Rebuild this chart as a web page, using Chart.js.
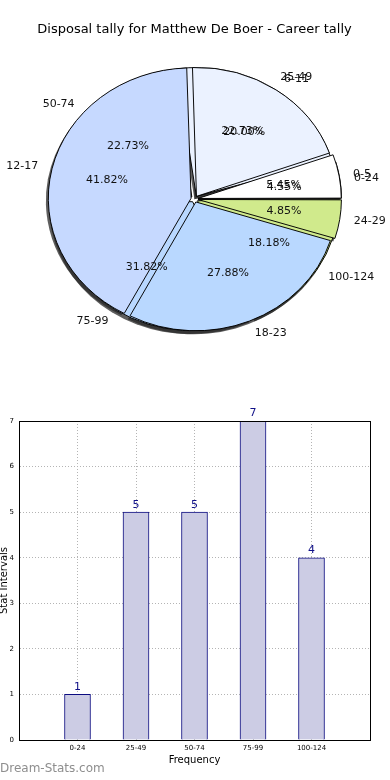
<!DOCTYPE html>
<html>
<head>
<meta charset="utf-8">
<script src="https://cdn.jsdelivr.net/npm/chart.js@4.4.0/dist/chart.umd.min.js"></script>
<style>
body { margin: 0; background: #fff; }
#wrap { position: relative; width: 390px; height: 780px; overflow: hidden; }
canvas { position: absolute; left: 0; }
#pieBack, #pieFront { top: 0; }
#barChart { top: 400px; }
#brand { position: absolute; left: 0; top: 761px; font: 12px "DejaVu Sans", sans-serif; color: #8e8e8e; }
</style>
</head>
<body>
<div id="wrap">
  <canvas id="pieBack" width="390" height="390"></canvas>
  <canvas id="pieFront" width="390" height="390"></canvas>
  <canvas id="barChart" width="390" height="380"></canvas>
  <div id="brand">Dream-Stats.com</div>
</div>
<script>
var titleText = 'Disposal tally for Matthew De Boer - Career tally';

// career tally (bins of 25) - also used for the bar chart
var careerLabels = ['0-24', '25-49', '50-74', '75-99', '100-124'];
var careerCounts = [1, 5, 5, 7, 4];

// disposal tally (bins of 6)
var disposalLabels = ['0-5', '6-11', '12-17', '18-23', '24-29'];
var disposalCounts = [9, 33, 69, 46, 8];

var sliceColors = ['#ffffff', '#ebf2ff', '#c6d9ff', '#b9d8ff', '#d0ea8c'];

var font = '"DejaVu Sans", sans-serif';
var squash = 0.913; // the pie is drawn a little flatter than round

function applySquash(ctx, cx, cy) {
  // flip vertically so slices run counter clockwise from 3 o'clock
  ctx.translate(cx, cy);
  ctx.scale(1, -squash);
  ctx.translate(-cx, -cy);
}

function arcShift(arc) {
  var off = (arc.options.offset || 0) / 4;
  var circ = arc.endAngle - arc.startAngle;
  var fix = 1 - Math.sin(Math.min(Math.PI, circ));
  return off * (1 + fix);
}

function labelPoint(arc, dist) {
  var mid = (arc.startAngle + arc.endAngle) / 2;
  var r = arc.outerRadius * dist + arcShift(arc);
  return { x: arc.x + r * Math.cos(mid), y: arc.y - squash * r * Math.sin(mid), c: Math.cos(mid) };
}

function drawShadows(ctx, chart) {
  if (!chart) return;
  var arcs = chart.getDatasetMeta(0).data;
  arcs.forEach(function(arc) {
    var mid = (arc.startAngle + arc.endAngle) / 2;
    var s = arcShift(arc);
    var x = arc.x + s * Math.cos(mid), y = arc.y + s * Math.sin(mid);
    ctx.beginPath();
    ctx.moveTo(x, y);
    ctx.arc(x, y, arc.outerRadius + 0.5, arc.startAngle, arc.endAngle);
    ctx.closePath();
    ctx.fill();
  });
}

var squashPlugin = {
  id: 'squash',
  beforeDatasetsDraw: function(chart) {
    var ctx = chart.ctx;
    var arcs = chart.getDatasetMeta(0).data;
    var cx = arcs[0].x, cy = arcs[0].y;
    if (chart.canvas.id === 'pieBack') {
      ctx.save();
      ctx.translate(-2, 3);
      applySquash(ctx, cx, cy);
      ctx.fillStyle = 'rgba(40,40,40,0.75)';
      drawShadows(ctx, chart);
      drawShadows(ctx, Chart.getChart('pieFront'));
      ctx.restore();
    }
    ctx.save();
    applySquash(ctx, cx, cy);
  },
  afterDatasetsDraw: function(chart) {
    chart.ctx.restore();
  }
};

function drawPieTexts(ctx, chart, labels, counts) {
  if (!chart) return;
  var arcs = chart.getDatasetMeta(0).data;
  var total = counts.reduce(function(a, b) { return a + b; }, 0);
  ctx.font = '11px ' + font;
  ctx.fillStyle = '#111';
  ctx.textBaseline = 'middle';
  arcs.forEach(function(arc, i) {
    var p = labelPoint(arc, 1.1);
    ctx.textAlign = p.c >= 0 ? 'left' : 'right';
    ctx.fillText(labels[i], p.x, p.y);
    var q = labelPoint(arc, 0.6);
    ctx.textAlign = 'center';
    ctx.fillText((100 * counts[i] / total).toFixed(2) + '%', q.x, q.y);
  });
}

var pieTextPlugin = {
  id: 'pieTexts',
  afterDraw: function(chart) {
    var ctx = chart.ctx;
    ctx.save();
    drawPieTexts(ctx, Chart.getChart('pieBack'), careerLabels, careerCounts);
    drawPieTexts(ctx, chart, disposalLabels, disposalCounts);
    ctx.restore();
  }
};

function pieOptions(titleColor) {
  return {
    responsive: false,
    animation: false,
    rotation: 90,
    radius: 141,
    layout: { padding: { top: 0, bottom: 29.6, left: 0, right: 1 } },
    plugins: {
      legend: { display: false },
      tooltip: { enabled: false },
      title: {
        display: true,
        text: titleText,
        color: titleColor,
        font: { family: font, size: 13, weight: 'normal' },
        padding: { top: 22, bottom: 0 }
      }
    }
  };
}

var backChart = new Chart(document.getElementById('pieBack'), {
  type: 'pie',
  data: {
    labels: careerLabels,
    datasets: [{
      data: careerCounts,
      backgroundColor: sliceColors,
      borderColor: '#000',
      borderWidth: 1,
      offset: 14
    }]
  },
  options: pieOptions('#000'),
  plugins: [squashPlugin]
});

var frontChart = new Chart(document.getElementById('pieFront'), {
  type: 'pie',
  data: {
    labels: disposalLabels,
    datasets: [{
      data: disposalCounts,
      backgroundColor: sliceColors,
      borderColor: '#000',
      borderWidth: 1,
      offset: 14
    }]
  },
  options: pieOptions('rgba(0,0,0,0)'),
  plugins: [squashPlugin, pieTextPlugin]
});

// redraw so the back pie also gets the shadows of the front pie
backChart.draw();

// bar chart
var barLabelPlugin = {
  id: 'barLabels',
  afterDraw: function(chart) {
    var ctx = chart.ctx, a = chart.chartArea;
    ctx.save();
    ctx.strokeStyle = '#000';
    ctx.lineWidth = 1;
    ctx.strokeRect(Math.round(a.left) + 0.5, Math.round(a.top) + 0.5,
      Math.round(a.right - a.left), Math.round(a.bottom - a.top));
    ctx.font = '11px ' + font;
    ctx.fillStyle = '#101088';
    ctx.textAlign = 'center';
    ctx.textBaseline = 'bottom';
    chart.getDatasetMeta(0).data.forEach(function(bar, i) {
      ctx.fillText(String(careerCounts[i]), bar.x, bar.y - 2);
    });
    ctx.restore();
  }
};

new Chart(document.getElementById('barChart'), {
  type: 'bar',
  data: {
    datasets: [{
      data: careerCounts.map(function(v, i) { return { x: i, y: v }; }),
      backgroundColor: '#ccccE4',
      borderColor: '#0c0c80',
      borderWidth: 1,
      barThickness: 26
    }]
  },
  options: {
    responsive: false,
    animation: false,
    layout: { padding: { top: 21, right: 20, left: 0, bottom: 0 } },
    plugins: {
      legend: { display: false },
      tooltip: { enabled: false }
    },
    scales: {
      x: {
        type: 'linear',
        min: -1,
        max: 5,
        offset: false,
        grid: { offset: false, color: '#b4b4b4', drawTicks: false },
        border: { display: true, color: '#000', width: 1, dash: [1, 2] },
        ticks: {
          stepSize: 1,
          autoSkip: false,
          maxRotation: 0,
          padding: 4,
          color: '#000',
          font: { family: font, size: 7 },
          callback: function(v) { return careerLabels[v] || ''; }
        },
        title: {
          display: true,
          text: 'Frequency',
          color: '#000',
          font: { family: font, size: 10 },
          padding: { top: 0, bottom: 14 }
        },
        afterFit: function(scale) { scale.height = 40; }
      },
      y: {
        min: 0,
        max: 7,
        grid: { color: '#b4b4b4', drawTicks: false },
        border: { display: true, color: '#000', width: 1, dash: [1, 2] },
        ticks: {
          stepSize: 1,
          padding: 5,
          color: '#000',
          font: { family: font, size: 7 }
        },
        title: {
          display: true,
          text: 'Stat Intervals',
          color: '#000',
          font: { family: font, size: 10, lineHeight: 0.9 },
          padding: 0
        },
        afterFit: function(scale) { scale.width = 19; }
      }
    }
  },
  plugins: [barLabelPlugin]
});
</script>
</body>
</html>
